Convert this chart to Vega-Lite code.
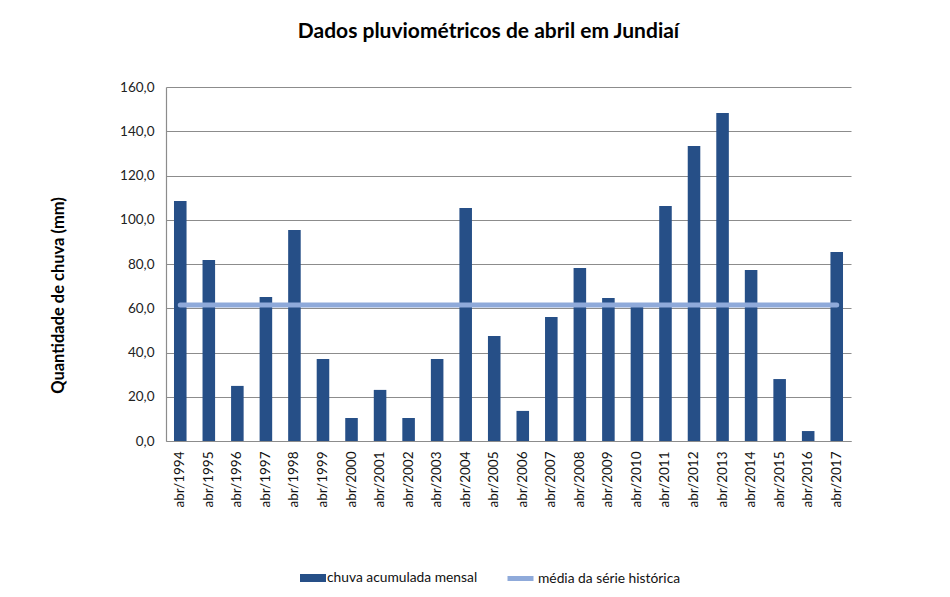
{
  "$schema": "https://vega.github.io/schema/vega-lite/v6.json",
  "autosize": {"type": "none"},
  "width": 685,
  "height": 354,
  "padding": {"left": 166, "top": 87, "right": 99, "bottom": 156},
  "background": "white",
  "title": {
    "text": "Dados pluviométricos de abril em Jundiaí",
    "font": "Lato",
    "fontSize": 21,
    "fontWeight": "bold",
    "color": "#000000",
    "anchor": "middle",
    "dx": -20,
    "offset": 38
  },
  "data": {
    "values": [
      {"mes": "abr/1994", "chuva": 108.5, "media": 61.5},
      {"mes": "abr/1995", "chuva": 81.8, "media": 61.5},
      {"mes": "abr/1996", "chuva": 24.9, "media": 61.5},
      {"mes": "abr/1997", "chuva": 65.1, "media": 61.5},
      {"mes": "abr/1998", "chuva": 95.4, "media": 61.5},
      {"mes": "abr/1999", "chuva": 37.1, "media": 61.5},
      {"mes": "abr/2000", "chuva": 10.4, "media": 61.5},
      {"mes": "abr/2001", "chuva": 23.1, "media": 61.5},
      {"mes": "abr/2002", "chuva": 10.4, "media": 61.5},
      {"mes": "abr/2003", "chuva": 37.1, "media": 61.5},
      {"mes": "abr/2004", "chuva": 105.3, "media": 61.5},
      {"mes": "abr/2005", "chuva": 47.5, "media": 61.5},
      {"mes": "abr/2006", "chuva": 13.6, "media": 61.5},
      {"mes": "abr/2007", "chuva": 56.0, "media": 61.5},
      {"mes": "abr/2008", "chuva": 78.2, "media": 61.5},
      {"mes": "abr/2009", "chuva": 64.6, "media": 61.5},
      {"mes": "abr/2010", "chuva": 61.0, "media": 61.5},
      {"mes": "abr/2011", "chuva": 106.2, "media": 61.5},
      {"mes": "abr/2012", "chuva": 133.3, "media": 61.5},
      {"mes": "abr/2013", "chuva": 148.2, "media": 61.5},
      {"mes": "abr/2014", "chuva": 77.3, "media": 61.5},
      {"mes": "abr/2015", "chuva": 28.0, "media": 61.5},
      {"mes": "abr/2016", "chuva": 4.5, "media": 61.5},
      {"mes": "abr/2017", "chuva": 85.4, "media": 61.5}
    ]
  },
  "encoding": {
    "x": {
      "field": "mes",
      "type": "nominal",
      "sort": null,
      "scale": {"paddingInner": 0.56, "paddingOuter": 0.28},
      "axis": {
        "title": null,
        "labelAngle": -90,
        "labelFont": "Lato",
        "labelFontSize": 13.5,
        "labelColor": "#111111",
        "labelPadding": 10,
        "ticks": false,
        "domainColor": "#8c8c8c",
        "domainWidth": 1.2,
        "grid": false
      }
    }
  },
  "layer": [
    {
      "mark": {"type": "bar", "fill": "#264F87"},
      "encoding": {
        "y": {
          "field": "chuva",
          "type": "quantitative",
          "scale": {"domain": [0, 160], "nice": false},
          "axis": {
            "title": "Quantidade de chuva (mm)",
            "titleFont": "Lato",
            "titleFontSize": 16.5,
            "titleFontWeight": "bold",
            "titleColor": "#000000",
            "titleX": -100,
            "titleY": 208,
            "titleAngle": -90,
            "values": [0, 20, 40, 60, 80, 100, 120, 140, 160],
            "labelExpr": "replace(format(datum.value, '.1f'), '.', ',')",
            "labelFont": "Lato",
            "labelFontSize": 13.5,
            "labelColor": "#222222",
            "labelPadding": 12,
            "ticks": false,
            "domainColor": "#8c8c8c",
            "domainWidth": 1.2,
            "gridColor": "#8c8c8c",
            "gridWidth": 1.2
          }
        },
        "color": {
          "datum": "chuva acumulada mensal",
          "type": "nominal",
          "scale": {"range": ["#264F87"]},
          "legend": {
            "title": null,
            "orient": "none",
            "legendX": 134,
            "legendY": 478,
            "padding": 0,
            "symbolType": "M-1,-0.31H1V0.31H-1Z",
            "symbolSize": 676,
            "symbolStrokeWidth": 0,
            "labelOffset": 1,
            "labelFont": "Lato",
            "labelFontSize": 13.8,
            "labelColor": "#111111"
          }
        }
      }
    },
    {
      "mark": {"type": "line", "strokeWidth": 5, "strokeCap": "round"},
      "encoding": {
        "y": {"field": "media", "type": "quantitative"},
        "stroke": {
          "datum": "média da série histórica",
          "type": "nominal",
          "scale": {"range": ["#8FAADA"]},
          "legend": {
            "title": null,
            "orient": "none",
            "legendX": 339,
            "legendY": 476,
            "padding": 0,
            "symbolType": "stroke",
            "symbolSize": 676,
            "symbolStrokeWidth": 5,
            "labelOffset": 2,
            "labelFont": "Lato",
            "labelFontSize": 13.8,
            "labelColor": "#111111"
          }
        }
      }
    }
  ],
  "config": {
    "view": {"stroke": null}
  }
}
